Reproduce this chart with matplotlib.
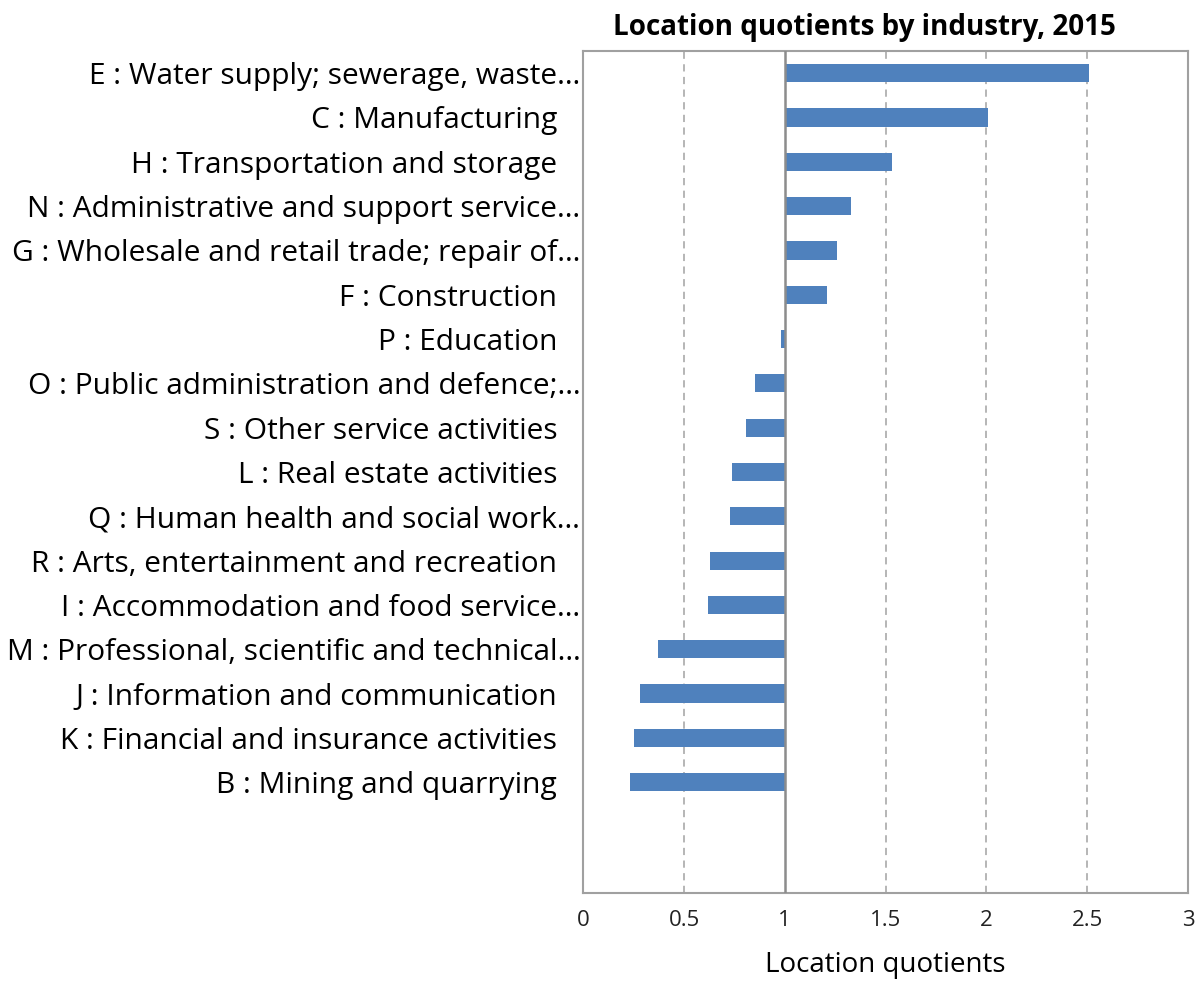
import numpy as np
import matplotlib.pyplot as plt

plt.rcParams['font.family'] = ['Open Sans', 'DejaVu Sans']

# industries, top to bottom; two empty slots at the bottom
labels = [
    "E : Water supply; sewerage, waste…",
    "C : Manufacturing   ",
    "H : Transportation and storage   ",
    "N : Administrative and support service…",
    "G : Wholesale and retail trade; repair of…",
    "F : Construction   ",
    "P : Education   ",
    "O : Public administration and defence;…",
    "S : Other service activities   ",
    "L : Real estate activities   ",
    "Q : Human health and social work…",
    "R : Arts, entertainment and recreation   ",
    "I : Accommodation and food service…",
    "M : Professional, scientific and technical…",
    "J : Information and communication   ",
    "K : Financial and insurance activities   ",
    "B : Mining and quarrying   ",
    "",
    "",
]
lq = [2.51, 2.01, 1.53, 1.33, 1.26, 1.21, 0.98, 0.85, 0.81, 0.74,
      0.73, 0.63, 0.62, 0.37, 0.28, 0.25, 0.23, np.nan, np.nan]
xticks = [0, 0.5, 1, 1.5, 2, 2.5, 3]
xticklabels = ["0", "0.5", "1", "1.5", "2", "2.5", "3"]

fig = plt.figure(figsize=(12, 9.83), dpi=100)
ax = fig.add_axes([0.486, 0.0916, 0.504, 0.8565])

y = np.arange(len(labels))
vals = np.array(lq)
ax.barh(y, vals - 1, left=1, height=0.41, color='#4F81BD', zorder=3)

ax.set_ylim(len(labels) - 0.5, -0.5)
ax.set_xlim(0, 3)
ax.set_yticks(y)
ax.set_yticklabels(labels, fontsize=21.5)
ax.tick_params(axis='y', length=0, pad=2)
ax.set_xticks(xticks)
ax.set_xticklabels(xticklabels, fontsize=16, color='#222222')
ax.tick_params(axis='x', length=0, pad=12)

for xv in [0.5, 1.5, 2, 2.5]:
    ax.axvline(xv, color='#b0b0b0', linestyle=(0, (4, 3)), linewidth=1.3, zorder=1)
ax.axvline(1, color='#8c8c8c', linewidth=1.8, zorder=4)

for s in ax.spines.values():
    s.set_color('#a0a0a0')
    s.set_linewidth(1.5)

ax.set_xlabel("Location quotients", fontsize=20, labelpad=15)
fig.text(0.72, 0.972, "Location quotients by industry, 2015", ha='center', va='center',
         fontsize=20, fontweight='bold')

fig.savefig('out.png', dpi=100)
